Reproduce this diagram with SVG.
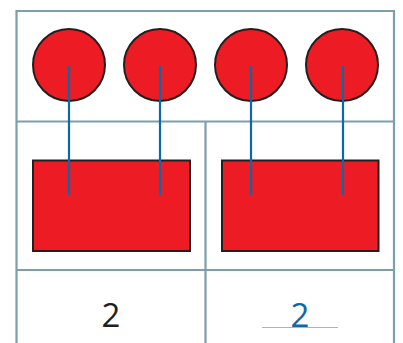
<svg xmlns="http://www.w3.org/2000/svg" width="403" height="343" viewBox="0 0 403 343">
<style>
.grid{stroke:#7b9fab;stroke-width:2.2;fill:none}
.shape{fill:#ed1c24;stroke:#231f20;stroke-width:2}
.link{stroke:#0a6aa8;stroke-width:2.2;fill:none}
.num{font-family:"Open Sans","Liberation Sans",sans-serif;font-size:33px;text-anchor:middle}
</style>
<rect width="403" height="343" fill="#ffffff"/>
<g id="grid">
<path class="grid" d="M16.5 345 V11 H394 V345 M16.5 121.5 H394 M16.5 270 H394 M205.5 121.5 V345"/>
</g>
<g id="circle1"><circle class="shape" cx="69" cy="65" r="36"/></g>
<g id="circle2"><circle class="shape" cx="160" cy="65" r="36"/></g>
<g id="circle3"><circle class="shape" cx="251" cy="65" r="36"/></g>
<g id="circle4"><circle class="shape" cx="342" cy="65" r="36"/></g>
<g id="rect1"><rect class="shape" x="33" y="160.5" width="157" height="90.5"/></g>
<g id="rect2"><rect class="shape" x="222" y="160.5" width="156.5" height="90.5"/></g>
<g id="connectors">
<line class="link" x1="69" y1="66" x2="69" y2="195"/>
<line class="link" x1="160" y1="66" x2="160" y2="195"/>
<line class="link" x1="251" y1="66" x2="251" y2="195"/>
<line class="link" x1="343" y1="66" x2="343" y2="195"/>
</g>
<g id="label1"><text class="num" x="111" y="326.5" fill="#231f20">2</text></g>
<g id="label2">
<line x1="262" y1="327.5" x2="338" y2="327.5" stroke="#b3b3b3" stroke-width="1.2"/>
<text class="num" x="300" y="326.5" fill="#0a6aa8">2</text>
</g>
</svg>
